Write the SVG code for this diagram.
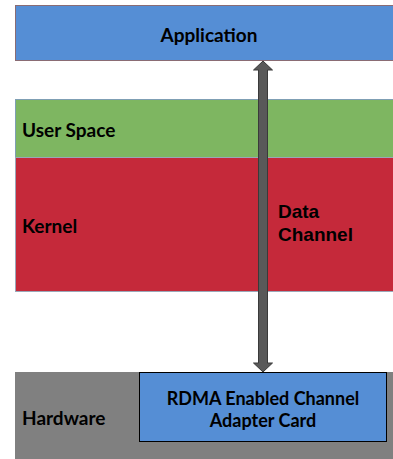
<svg xmlns="http://www.w3.org/2000/svg" width="393" height="459" viewBox="0 0 393 459">
<style>
.lbl{font-family:Lato,"Liberation Sans",sans-serif;font-weight:bold;font-size:19px;fill:#000}
.card{font-size:18px}
.arl{font-family:"Liberation Sans",Arial,sans-serif;font-weight:bold;font-size:19px;fill:#000}
</style>
<rect width="393" height="459" fill="#fff"/>
<g id="application">
<rect x="15.5" y="5.5" width="390" height="55" fill="#558ed5" stroke="#8a6c74" stroke-width="1"/>
<text class="lbl" x="209" y="42" text-anchor="middle">Application</text>
</g>
<g id="user-space">
<rect x="15.5" y="99.5" width="390" height="58" fill="#7eb661" stroke="#7f9fb4" stroke-width="1"/>
<text class="lbl" x="22" y="137">User Space</text>
</g>
<g id="kernel">
<rect x="15.5" y="157.5" width="390" height="134" fill="#c5293a" stroke="#9aa7b8" stroke-width="1"/>
<text class="lbl" x="22" y="233">Kernel</text>
</g>
<g id="hardware">
<rect x="15" y="372" width="390" height="90" fill="#808080"/>
<text class="lbl" x="22" y="425">Hardware</text>
</g>
<g id="rdma-card">
<rect x="139.5" y="372.5" width="247" height="69" fill="#558ed5" stroke="#000" stroke-width="1"/>
<text class="lbl card" x="263" y="405" text-anchor="middle">RDMA Enabled Channel</text>
<text class="lbl card" x="263" y="427" text-anchor="middle">Adapter Card</text>
</g>
<g id="connectors">
<path d="M263 61 L272.5 70 L267.5 70 L267.5 363 L272.5 363 L263 372 L253.5 363 L258.5 363 L258.5 70 L253.5 70 Z" fill="#595959" stroke="#3a3a3a" stroke-width="1"/>
<text class="arl" x="278" y="218">Data</text>
<text class="arl" x="278" y="241">Channel</text>
</g>
</svg>
